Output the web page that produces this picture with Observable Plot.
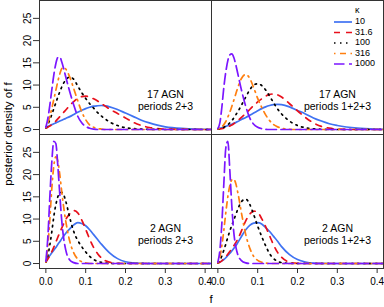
<!DOCTYPE html>
<html><head><meta charset="utf-8">
<script src="https://cdn.jsdelivr.net/npm/d3@7"></script>
<script src="https://cdn.jsdelivr.net/npm/@observablehq/plot@0.6"></script>
<style>body{margin:0;background:#fff}#chart{width:384px;height:307px}</style>
</head><body><div id="chart"></div>
<script>
// f grid shared by all curves
const fGrid = [0, .005, .01, .015, .02, .025, .03, .035, .04, .045, .05, .06, .07, .08, .09, .10, .11, .12, .13, .14, .15, .16, .18, .20, .22, .24, .26, .28, .30, .35, .40, .42];
const kappas = ["10", "31.6", "100", "316", "1000"];
const agnLabels = ["17 AGN", "17 AGN", "2 AGN", "2 AGN"];
const periodLabels = ["periods 2+3", "periods 1+2+3", "periods 2+3", "periods 1+2+3"];
const panelRow = [0, 0, 1, 1];
const panelCol = [0, 1, 0, 1];
const xTicks = [0, 0.1, 0.2, 0.3, 0.4];
const yTicks = [0, 5, 10, 15, 20, 25];

// 17 AGN, periods 2+3
const a17p23_k10   = [0.5,0.7,0.9,1.1,1.3,1.5,1.7,1.9,2.1,2.3,2.5,2.9,3.4,3.9,4.3,4.7,5.0,5.25,5.35,5.4,5.3,5.1,4.5,3.7,2.9,2.1,1.5,1.0,0.6,0.2,0.05,0.02];
const a17p23_k31   = [0.3,0.5,0.8,1.1,1.5,1.9,2.4,2.9,3.4,3.9,4.4,5.4,6.3,7.0,7.4,7.5,7.3,6.9,6.4,5.8,5.2,4.6,3.6,2.6,1.6,0.9,0.45,0.2,0.1,0.02,0,0];
const a17p23_k100  = [0.4,1.2,2.2,3.4,4.7,6.0,7.3,8.5,9.6,10.5,11.2,11.8,11.3,9.8,8.3,7.0,5.8,4.8,3.8,3.0,2.3,1.7,0.9,0.4,0.2,0.1,0.04,0.02,0,0,0,0];
const a17p23_k316  = [0.4,1.5,3.0,4.8,6.8,8.8,10.8,12.5,13.7,14.0,13.6,11.8,9.2,6.5,4.0,2.2,1.0,0.5,0.2,0.1,0,0,0,0,0,0,0,0,0,0,0,0];
const a17p23_k1000 = [0.5,2.5,5.5,9.0,12.3,14.8,16.2,16.3,15.2,13.6,11.8,8.5,5.5,3.0,1.5,0.7,0.3,0.1,0,0,0,0,0,0,0,0,0,0,0,0,0,0];
// 17 AGN, periods 1+2+3
const a17p123_k10   = [0.2,0.3,0.4,0.6,0.7,0.9,1.0,1.2,1.4,1.6,1.8,2.3,2.7,3.2,3.7,4.2,4.7,5.1,5.4,5.6,5.65,5.6,5.1,4.3,3.5,2.6,1.9,1.3,0.9,0.3,0.08,0.04];
const a17p123_k31   = [0.1,0.15,0.2,0.3,0.45,0.6,0.8,1.0,1.3,1.6,2.0,2.8,3.6,4.5,5.4,6.2,6.9,7.5,7.9,8.0,7.8,7.3,5.8,4.2,2.7,1.5,0.7,0.3,0.1,0,0,0];
const a17p123_k100  = [0.1,0.2,0.35,0.5,0.8,1.1,1.5,2.0,2.6,3.3,4.0,5.6,7.3,8.9,10.0,10.3,9.9,8.9,7.5,6.0,4.6,3.5,1.9,0.9,0.4,0.15,0.05,0,0,0,0,0];
const a17p123_k316  = [0.1,0.3,0.6,1.1,1.8,2.8,3.9,5.2,6.6,8.0,9.4,11.6,12.4,11.5,9.4,7.0,5.0,3.3,2.0,1.1,0.6,0.3,0.06,0,0,0,0,0,0,0,0,0];
const a17p123_k1000 = [0.2,1.5,5.0,9.5,13.0,15.5,16.8,17.0,16.2,14.6,12.6,8.6,5.2,2.6,1.2,0.5,0.2,0.05,0,0,0,0,0,0,0,0,0,0,0,0,0,0];
// 2 AGN, periods 2+3
const a2p23_k10   = [0.6,1.2,1.8,2.4,3.0,3.6,4.3,4.9,5.6,6.2,6.8,7.8,8.7,9.2,9.0,8.5,7.6,6.5,5.4,4.3,3.3,2.4,1.1,0.4,0.15,0.05,0,0,0,0,0,0];
const a2p23_k31   = [0.3,1.0,1.8,2.7,3.7,4.8,5.9,7.0,8.0,9.0,9.9,11.2,11.9,11.4,9.8,7.7,5.5,3.6,2.2,1.2,0.6,0.3,0.05,0,0,0,0,0,0,0,0,0];
const a2p23_k100  = [0.3,1.8,4.2,7.2,10.6,13.2,15.0,15.9,16.0,15.4,14.0,10.3,7.2,5.2,3.8,2.6,1.6,0.9,0.5,0.25,0.1,0,0,0,0,0,0,0,0,0,0,0];
const a2p23_k316  = [0.3,4,10,17,22,24,23,20,16,12.5,9.5,5.0,2.4,1.0,0.4,0.15,0,0,0,0,0,0,0,0,0,0,0,0,0,0,0,0];
const a2p23_k1000 = [0.5,6,15,23,27.5,27,22,15.5,9.5,5.5,3.0,0.8,0.2,0,0,0,0,0,0,0,0,0,0,0,0,0,0,0,0,0,0,0];
// 2 AGN, periods 1+2+3
const a2p123_k10   = [0.2,0.35,0.6,0.9,1.3,1.8,2.3,2.8,3.4,4.0,4.7,6.2,7.6,8.6,9.1,9.2,8.9,8.1,7.2,6.1,5.0,3.8,2.0,0.9,0.35,0.1,0.03,0,0,0,0,0];
const a2p123_k31   = [0.1,0.3,0.6,1.0,1.5,2.1,2.7,3.4,4.0,4.7,5.5,7.5,9.6,11.1,11.8,11.5,10.1,8.3,6.2,4.2,2.5,1.4,0.3,0.05,0,0,0,0,0,0,0,0];
const a2p123_k100  = [0.2,0.8,1.7,3.0,4.4,5.9,7.3,8.6,9.8,11.0,12.2,14.0,14.5,13.3,11.0,8.4,6.1,4.0,2.2,1.1,0.5,0.2,0.03,0,0,0,0,0,0,0,0,0];
const a2p123_k316  = [0.2,1.5,4,7.5,11.5,15,17.5,18.8,19.0,18.0,16.0,11.0,6.5,3.5,1.6,0.7,0.3,0.1,0,0,0,0,0,0,0,0,0,0,0,0,0,0];
const a2p123_k1000 = [0.3,3,9,18,26,27.5,21,13,7,3.8,2.0,0.6,0.15,0,0,0,0,0,0,0,0,0,0,0,0,0,0,0,0,0,0,0];

const panelSeries = [
  [a17p23_k10, a17p23_k31, a17p23_k100, a17p23_k316, a17p23_k1000],
  [a17p123_k10, a17p123_k31, a17p123_k100, a17p123_k316, a17p123_k1000],
  [a2p23_k10, a2p23_k31, a2p23_k100, a2p23_k316, a2p23_k1000],
  [a2p123_k10, a2p123_k31, a2p123_k100, a2p123_k316, a2p123_k1000]
];

const colors = ["#3f72f2", "#e8101c", "#000000", "#ff7f10", "#7b16ff"];
const dashes = [null, "6,6", "1.5,4.5", "1.5,4.5,6,4.5", "10.5,4.5"];

const rows = [];
panelSeries.forEach((series, p) => {
  series.forEach((vals, k) => {
    fGrid.forEach((f, t) => rows.push({row: panelRow[p], col: panelCol[p], kappa: kappas[k], f, d: vals[t]}));
  });
});
const labels = agnLabels.map((a, p) => ({row: panelRow[p], col: panelCol[p], text: a + "\n" + periodLabels[p]}));

const font = "'Liberation Sans', Arial, Helvetica, sans-serif";
const plot = Plot.plot({
  width: 384, height: 307,
  marginLeft: 39, marginRight: 1, marginTop: 0, marginBottom: 39,
  style: {fontFamily: font, fontSize: "10px", color: "#000", background: "#fff", overflow: "visible"},
  x: {domain: [-0.016, 0.416]},
  y: {domain: [-1.12, 29.02]},
  fx: {domain: [0, 1], padding: 0, axis: null},
  fy: {domain: [0, 1], padding: 0, axis: null},
  marks: [
    ...kappas.map((k, i) => Plot.line(rows.filter(r => r.kappa === k), {
      x: "f", y: "d", fx: "col", fy: "row",
      stroke: colors[i], strokeWidth: 1.7, strokeDasharray: dashes[i] || undefined,
      curve: "monotone-x", clip: true
    })),
    Plot.frame({stroke: "#333", strokeWidth: 1}),
    Plot.text(labels, {fx: "col", fy: "row", text: "text", frameAnchor: "left", dx: 126, dy: 33, textAnchor: "middle", fontSize: 10.5, lineHeight: 1.08}),
    Plot.axisX({ticks: xTicks, tickFormat: d3.format(".1f"), tickSize: 5, tickPadding: 4, fontSize: 10, label: null, stroke: "#333"}),
    Plot.axisY({ticks: yTicks, tickSize: 6, tickRotate: -90, fontSize: 10, label: null, stroke: "#333"})
  ]
});
document.getElementById("chart").appendChild(plot);

const svg = d3.select(plot);
svg.append("text").attr("transform", "translate(9,134) rotate(-90)").attr("text-anchor", "middle").attr("dominant-baseline", "middle")
  .style("font-size", "11.5px").style("font-family", font).text("posterior density of f");
svg.append("text").attr("x", 211).attr("y", 300).attr("text-anchor", "middle").attr("dominant-baseline", "middle")
  .style("font-size", "11.5px").style("font-family", font).text("f");

const lg = svg.append("g").style("font-family", font).style("font-size", "9px").attr("text-anchor", "start");
lg.append("text").attr("x", 355).attr("y", 11).attr("text-anchor", "start").attr("dominant-baseline", "middle").text("κ");
kappas.forEach((k, i) => {
  const y = 22 + i * 10.5;
  lg.append("line").attr("x1", 334).attr("x2", 352).attr("y1", y).attr("y2", y)
    .attr("stroke", colors[i]).attr("stroke-width", 1.7).attr("stroke-dasharray", dashes[i]);
  lg.append("text").attr("x", 355).attr("y", y).attr("text-anchor", "start").attr("dominant-baseline", "middle").text(k);
});
</script></body></html>
